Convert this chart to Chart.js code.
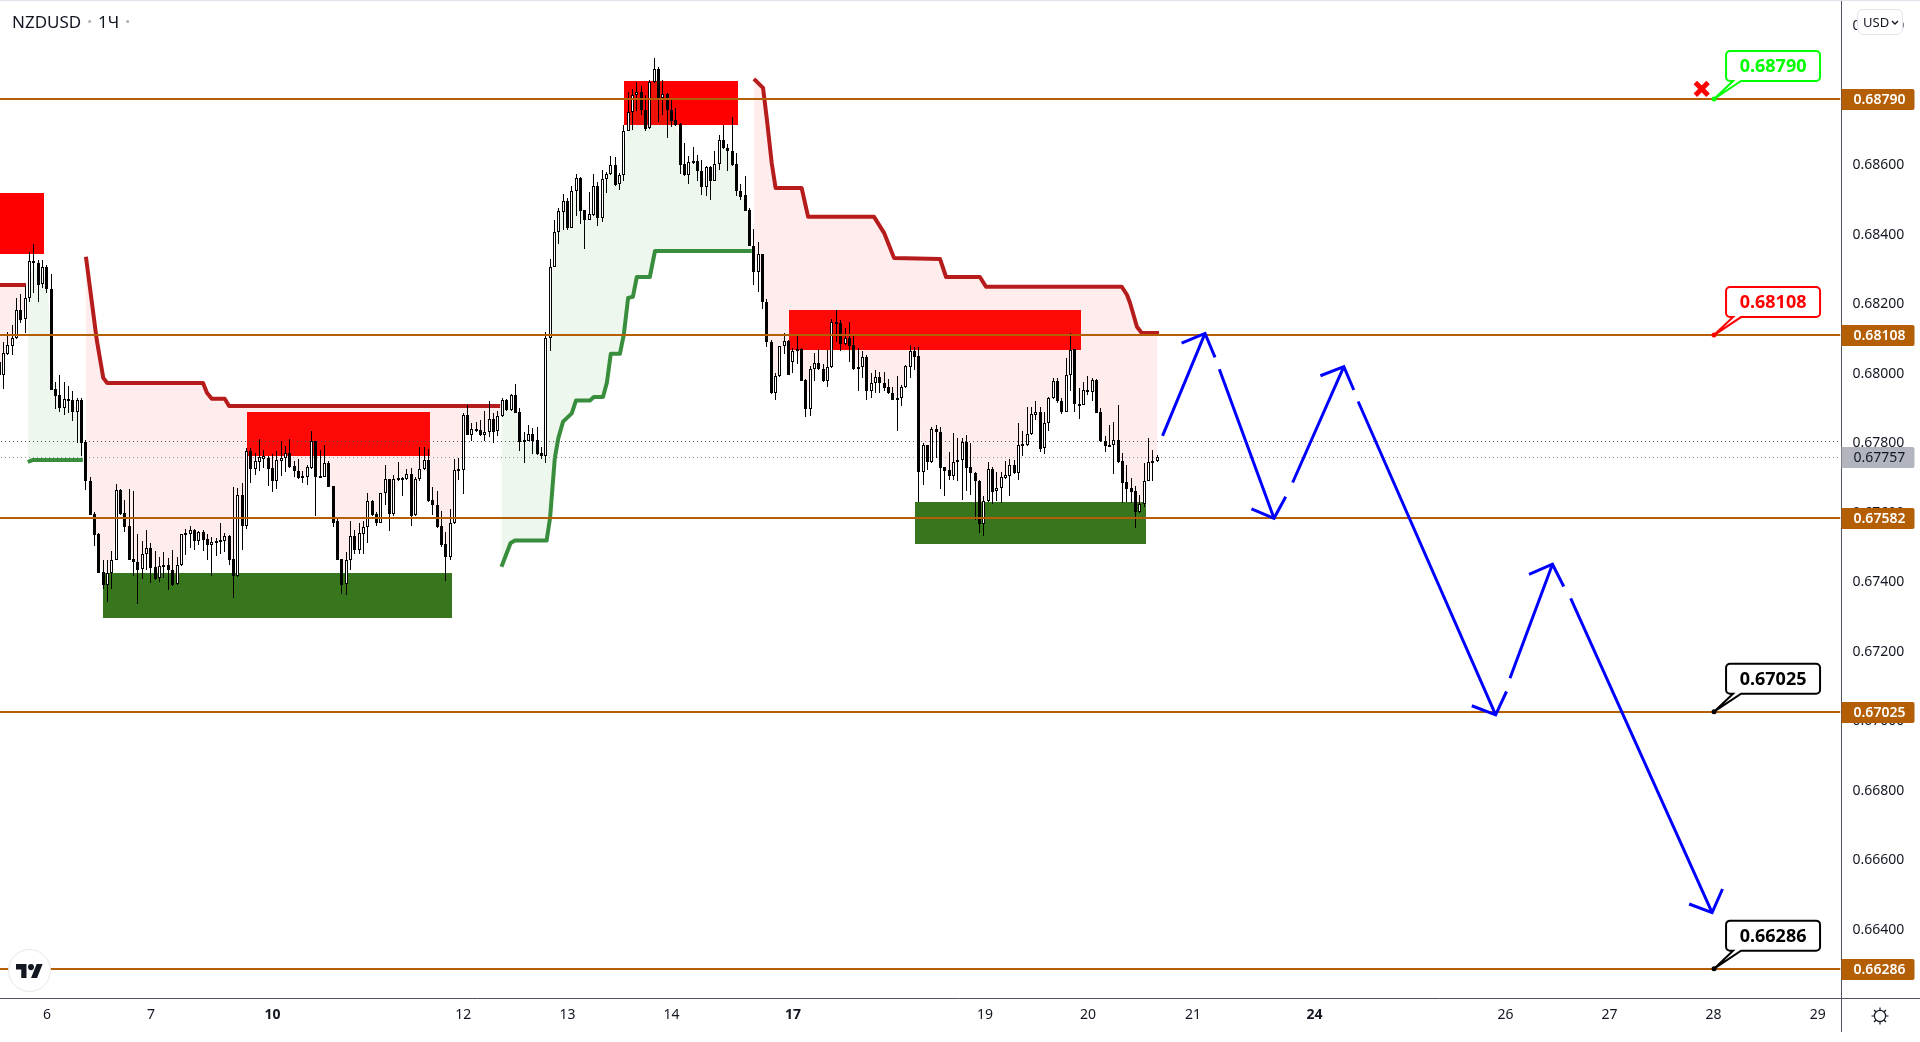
<!DOCTYPE html>
<html>
<head>
  <title>NZDUSD 1Ч</title>
  <script src="https://cdn.jsdelivr.net/npm/chart.js"></script>
  <style>
    html, body { margin: 0; background: #fff; overflow: hidden; }
    body { width: 1920px; height: 1042px; position: relative; font-family: "Noto Sans", Arial, sans-serif; color: #131722; }
    #chart { position: absolute; left: -3px; top: 0; }
    #topline { position: absolute; left: 0; top: 0; width: 100%; height: 1px; background: #e0e3eb; }
    #legend { position: absolute; left: 12px; top: 9px; font-size: 17px; line-height: 26px; white-space: nowrap; }
    #legend i { font-style: normal; color: #b2b5be; margin: 0 6px; font-weight: bold; }
    #currency { position: absolute; left: 1857px; top: 9px; width: 44px; height: 24px; border: 1px solid #e0e3eb; border-radius: 6px; background: #fff; font-size: 13px; line-height: 24px; }
    #currency span { position: absolute; left: 5px; }
    #currency svg { position: absolute; left: 33px; top: 10px; }
    #logo { position: absolute; left: 8px; top: 949px; width: 41px; height: 41px; border: 1px solid #e6e6e6; border-radius: 50%; background: #fff; }
    #logo svg { position: absolute; left: 7px; top: 14px; }
    #gear { position: absolute; left: 1871px; top: 1007px; }
  </style>
</head>
<body>
  <canvas id="chart" width="1923" height="1032"></canvas>
  <div id="topline"></div>
  <div id="legend">NZDUSD<i>·</i>1Ч<i>·</i></div>
  <div id="currency"><span>USD</span><svg width="8" height="5" viewBox="0 0 8 5"><path d="M1 1l3 3 3-3" fill="none" stroke="#131722" stroke-width="1.4"/></svg></div>
  <div id="logo"><svg width="27" height="14" viewBox="0 4 36 18" preserveAspectRatio="none"><path fill="#131722" d="M14 22H7V11H0V4h14v18zM28 22h-8l7.5-18h8L28 22z"/><circle fill="#131722" cx="20" cy="8" r="4"/></svg></div>
  <svg id="gear" width="18" height="18" viewBox="0 0 18 18" fill="none" stroke="#131722" stroke-width="1.2"><circle cx="9" cy="9" r="5.6"/><path d="M9 0.5v3M9 14.5v3M0.5 9h3M14.5 9h3M3 3l2 2M13 13l2 2M15 3l-2 2M5 13l-2 2"/></svg>

  <script>
    // prices are kept in points, 1 point = 0.00001
    var opens = [
      68032,67994,68054,68078,68099,68181,68154,68214,68321,68315,
      68254,68303,68240,67952,67936,67898,67924,67922,67888,67922,
      67801,67689,67594,67536,67426,67390,67423,67462,67663,67596,
      67559,67464,67455,67435,67478,67495,67440,67408,67447,67446,
      67433,67392,67446,67538,67537,67548,67517,67542,67521,67503,
      67515,67518,67517,67531,67463,67414,67648,67560,67775,67723,
      67744,67753,67755,67725,67687,67747,67754,67768,67732,67717,
      67703,67701,67727,67802,67703,67701,67740,67674,67572,67463,
      67392,67460,67531,67490,67537,67555,67630,67593,67569,67653,
      67694,67594,67697,67697,67693,67709,67590,67693,67722,67749,
      67634,67620,67559,67507,67471,67567,67722,67720,67879,67821,
      67837,67835,67822,67829,67867,67831,67874,67920,67893,67936,
      67886,67800,67804,67823,67805,67768,67760,68099,68305,68403,
      68463,68495,68417,68521,68559,68468,68439,68454,68537,68446,
      68556,68571,68597,68542,68567,68696,68749,68797,68808,68756,
      68703,68835,68873,68791,68801,68756,68727,68715,68600,68567,
      68605,68609,68581,68535,68591,68550,68599,68669,68645,68638,
      68600,68523,68511,68468,68365,68288,68341,68203,68088,67941,
      67989,68077,68091,68032,68061,68067,67979,67895,68010,68027,
      68011,67977,68017,68147,68142,68083,68099,68080,68013,68017,
      68044,67946,67970,67987,67971,67958,67942,67926,67926,67958,
      68017,68063,68048,67713,67792,67744,67837,67829,67728,67719,
      67704,67742,67748,67801,67728,67711,67689,67564,67632,67722,
      67659,67667,67698,67704,67734,67711,67795,67792,67823,67879,
      67887,67782,67855,67926,67976,67919,67888,67993,68067,67910,
      67907,67950,67943,67979,67887,67804,67792,67791,67806,67745,
      67686,67668,67660,67600,67622,67687,67745,67745
    ];
    var closes = [
      67994,68056,68080,68099,68181,68152,68214,68321,68315,68252,
      68303,68240,67950,67934,67898,67924,67920,67888,67922,67799,
      67687,67591,67533,67425,67390,67423,67462,67663,67594,67557,
      67462,67454,67433,67479,67495,67439,67407,67444,67442,67431,
      67390,67446,67535,67534,67548,67517,67542,67519,67503,67512,
      67510,67514,67531,67462,67414,67648,67560,67774,67723,67746,
      67757,67759,67724,67687,67749,67754,67768,67730,67716,67698,
      67698,67729,67804,67701,67700,67740,67671,67569,67462,67390,
      67462,67531,67490,67538,67555,67630,67591,67568,67653,67694,
      67593,67694,67692,67693,67709,67588,67694,67722,67749,67632,
      67618,67555,67505,67471,67567,67720,67718,67879,67821,67837,
      67833,67821,67829,67867,67829,67876,67920,67893,67936,67885,
      67800,67805,67823,67804,67766,67760,68099,68305,68403,68464,
      68495,68415,68521,68559,68466,68439,68456,68537,68446,68556,
      68571,68597,68540,68569,68696,68749,68797,68806,68754,68701,
      68837,68873,68791,68801,68754,68724,68712,68597,68567,68607,
      68609,68581,68535,68591,68550,68599,68669,68645,68636,68597,
      68521,68506,68466,68363,68288,68341,68202,68087,67941,67991,
      68077,68091,67992,68062,68067,67977,67895,68010,68027,68010,
      67977,68017,68147,68142,68083,68099,68077,68011,68017,68044,
      67946,67970,67987,67971,67955,67940,67922,67922,67958,68019,
      68063,68046,67713,67792,67744,67837,67828,67727,67718,67704,
      67742,67748,67800,67727,67711,67687,67564,67632,67722,67658,
      67667,67699,67705,67734,67711,67791,67791,67823,67880,67886,
      67781,67855,67926,67976,67917,67888,67993,68065,67909,67907,
      67950,67943,67979,67885,67802,67789,67789,67806,67744,67684,
      67666,67658,67600,67622,67689,67742,67742,67757
    ];
    var highs = [
      68085,68089,68118,68137,68214,68227,68248,68348,68369,68324,
      68324,68310,68283,67974,67994,67974,67962,67946,67926,67926,
      67807,67699,67598,67538,67462,67462,67487,67680,67666,67634,
      67666,67660,67536,67517,67548,67509,67488,67469,67485,67466,
      67490,67471,67536,67551,67559,67551,67545,67548,67536,67527,
      67524,67567,67538,67533,67670,67668,67682,67783,67783,67768,
      67809,67778,67759,67766,67775,67802,67789,67809,67746,67752,
      67716,67735,67833,67804,67778,67792,67747,67674,67586,67463,
      67483,67574,67548,67567,67572,67653,67634,67598,67655,67735,
      67694,67706,67743,67701,67722,67725,67701,67786,67786,67780,
      67670,67660,67602,67543,67608,67752,67754,67883,67907,67855,
      67859,67864,67890,67919,67883,67890,67926,67923,67938,67967,
      67898,67828,67850,67840,67845,67787,68118,68326,68439,68473,
      68514,68502,68537,68571,68564,68468,68519,68571,68548,68583,
      68578,68623,68620,68575,68713,68808,68815,68837,68825,68799,
      68842,68904,68878,68842,68804,68784,68760,68717,68660,68624,
      68648,68626,68612,68593,68593,68636,68684,68713,68658,68735,
      68631,68543,68566,68473,68413,68375,68341,68211,68094,68000,
      68077,68113,68094,68070,68106,68070,67981,68019,68056,68067,
      68025,68065,68154,68180,68152,68128,68147,68106,68070,68063,
      68051,67998,68008,68003,68003,67981,67960,67991,67965,68022,
      68080,68075,68075,67797,67792,67843,67850,67845,67730,67771,
      67826,67813,67811,67820,67799,67715,67692,67646,67744,67730,
      67713,67713,67746,67751,67749,67855,67831,67902,67901,67917,
      67902,67888,67931,67984,67984,67926,68043,68113,68067,67955,
      67972,67991,67984,67981,67898,67818,67850,67857,67907,67768,
      67735,67696,67674,67648,67739,67811,67778,67762
    ];
    var lows = [
      67979,67953,68051,68051,68096,68142,68113,68204,68230,68204,
      68242,68230,67950,67896,67888,67879,67885,67862,67797,67761,
      67663,67591,67502,67425,67377,67339,67377,67460,67591,67543,
      67462,67414,67335,67407,67433,67396,67404,67399,67409,67375,
      67385,67390,67444,67476,67495,67490,67505,67487,67462,67414,
      67473,67479,67485,67447,67353,67412,67490,67550,67684,67706,
      67716,67727,67675,67658,67665,67703,67713,67727,67701,67694,
      67684,67677,67723,67588,67698,67699,67670,67557,67460,67364,
      67361,67433,67479,67479,67479,67509,67589,67560,67567,67620,
      67546,67588,67687,67644,67690,67560,67588,67687,67720,67629,
      67591,67554,67500,67402,67462,67565,67692,67651,67820,67804,
      67828,67818,67802,67816,67797,67818,67871,67891,67890,67883,
      67776,67739,67802,67766,67763,67753,67741,68063,68303,68370,
      68410,68410,68415,68451,68428,68356,68439,68449,68422,68432,
      68516,68569,68537,68524,68550,68696,68698,68751,68741,68696,
      68701,68832,68722,68741,68676,68705,68708,68572,68566,68543,
      68600,68550,68511,68508,68497,68550,68583,68643,68581,68593,
      68508,68497,68466,68363,68252,68233,68182,68075,67939,67922,
      67987,68054,67992,68000,68025,67975,67872,67876,67977,68008,
      67974,67960,68013,68089,68063,68080,68032,68008,67946,67986,
      67920,67928,67941,67941,67946,67939,67922,67831,67905,67955,
      67986,68008,67629,67677,67720,67741,67754,67666,67644,67692,
      67692,67687,67634,67660,67648,67576,67540,67529,67629,67622,
      67632,67624,67693,67645,67709,67692,67759,67790,67821,67864,
      67773,67766,67833,67924,67914,67881,67886,67948,67888,67867,
      67907,67936,67917,67883,67800,67771,67787,67709,67741,67624,
      67629,67624,67554,67596,67613,67687,67689,67743
    ];

    // trend lines, null breaks the line
    var redBars = [-0.5,6.2,6.2, 20,22.5,24,24.9,47,47.9,49,52,53,115.5,115.5,
      174,176.1,177,178.1,179,185,186.5,201.7,204,206.3,216.9,218.3,226.1,227.5,258.8,260,260.7,262.3,263.4,267.4];
    var redPoints = [68252,68252,null, 68333,68094,67985,67970,67970,67942,67925,67925,67904,67904,null,
      68845,68819,68727,68603,68531,68531,68448,68448,68402,68330,68327,68275,68275,68247,68247,68224,68201,68132,68114,68114];
    var greenBars = [6.6,7.8,19.3,19.3, 115.8,117.9,118.9,126.2,127,128.1,128.9,130,132,133,136.2,137.1,139.2,140.1,141,143.1,144,145,146.1,147,150,151.2,173.5];
    var greenPoints = [67743,67749,67749,null, 67442,67510,67517,67517,67582,67754,67811,67859,67883,67920,67920,67930,67930,67971,68054,68054,68109,68215,68218,68275,68275,68350,68350];

    // supply and demand boxes
    var redZoneStart = [-0.5,57.13,144.03,182.07];
    var redZoneEnd = [10.33,99.31,170.32,249.38];
    var redZoneTop = [68517,67887,68839,68180];
    var redZoneBottom = [68342,67761,68712,68065];
    var greenZoneStart = [23.93,211.12];
    var greenZoneEnd = [104.39,264.37];
    var greenZoneTop = [67424,67628];
    var greenZoneBottom = [67295,67507];

    // horizontal levels and their labels
    var levelPoints = [68787,68108,67582,67025,66286];
    var levelTexts = ['0.68790','0.68108','0.67582','0.67025','0.66286'];
    var calloutLevels = [0,1,3,4];
    var calloutColors = ['#00ff00','#ff0000','#000000','#000000'];
    var lastPoints = 67757;
    var lastText = '0.67757';
    var prevClosePoints = 67802;

    // forecast arrows
    var arrowBars = [268.2,278,278, 272.6,278,280.3,280.3, 281.3,293.9,293.9, 288.7,293.9,296.6,296.6,
      298.2,310,310, 304.6,310,312.3,312.3, 313.3,345,345, 339.5,345,347.5,347.5,
      348.3,358.1,358.1, 352.7,358.1,360.7,360.7, 362.3,394.9,394.9, 389.6,394.9,397.3];
    var arrowPoints = [67818,68113,null, 68085,68113,68044,null, 68010,67581,null, 67608,67581,67643,null,
      67684,68017,null, 67991,68017,67950,null, 67917,67016,null, 67042,67016,67083,null,
      67121,67449,null, 67420,67449,67385,null, 67351,66447,null, 66472,66447,66515];
    var crossBar = 392.5;
    var crossPoints = 68816;
    var calloutBar = 395.35;

    // axes
    var dayBars = [11,35,63,107,131,155,183,227.25,251,275.25,303.25,347.25,371.25,395.25,419.25];
    var dayLabels = ['6','7','10','12','13','14','17','19','20','21','24','26','27','28','29'];
    var boldDays = ['10','17','24'];
    var priceTicks = [0.664,0.666,0.668,0.67,0.672,0.674,0.676,0.678,0.68,0.682,0.684,0.686,0.688,0.69];

    var FONT = '"Noto Sans", Arial, sans-serif';
    var ORANGE = '#b45f06';
    var FRAME = '#50535e';

    function pairs(bars, points) {
      return bars.map(function (b, i) {
        return { x: b, y: points[i] === null ? null : points[i] / 100000 };
      });
    }

    var candleBars = opens.map(function (_, i) { return i; });
    var wicks = candleBars.map(function (i) { return { x: i, y: [lows[i] / 100000, highs[i] / 100000] }; });
    var bodies = candleBars.map(function (i) { return { x: i, y: [opens[i] / 100000, closes[i] / 100000] }; });
    var middles = candleBars.map(function (i) { return { x: i, y: (opens[i] + closes[i]) / 200000 }; });
    var bodyColors = candleBars.map(function (i) { return closes[i] >= opens[i] ? '#ffffff' : '#000000'; });

    var datasets = [
      { type: 'line', label: 'mid', data: middles, borderWidth: 0, pointRadius: 0, order: 7 },
      { type: 'line', label: 'trend down', data: pairs(redBars, redPoints), borderColor: '#b71c1c', borderWidth: 4, pointRadius: 0,
        fill: { target: 0 }, backgroundColor: 'rgba(255,82,82,0.1)', borderJoinStyle: 'round', order: 6 },
      { type: 'line', label: 'trend up', data: pairs(greenBars, greenPoints), borderColor: '#388e3c', borderWidth: 4, pointRadius: 0,
        fill: { target: 0 }, backgroundColor: 'rgba(76,175,80,0.1)', borderJoinStyle: 'round', order: 6 },
      { type: 'line', label: 'previous close', data: pairs([-0.5, 424.5], [prevClosePoints, prevClosePoints]), borderColor: FRAME, borderWidth: 1,
        borderDash: [1, 3], pointRadius: 0, order: 5, snap: 0.5 },
      { type: 'line', label: 'last', data: pairs([-0.5, 424.5], [lastPoints, lastPoints]), borderColor: '#9598a1', borderWidth: 1,
        borderDash: [1, 3], pointRadius: 0, order: 5, snap: 0.5 },
      { label: 'wicks', data: wicks, backgroundColor: '#000000', barThickness: 1, grouped: false, inflateAmount: 0, order: 4 },
      { label: 'bodies', data: bodies, backgroundColor: bodyColors, borderColor: '#000000', borderWidth: 1, borderSkipped: false,
        barThickness: 3, grouped: false, inflateAmount: 0, order: 3 },
      { type: 'line', label: 'forecast', data: pairs(arrowBars, arrowPoints), borderColor: '#0000ff', borderWidth: 3, pointRadius: 0, order: 1 },
      { type: 'line', label: 'stop', data: pairs([crossBar], [crossPoints]), showLine: false, pointStyle: 'crossRot', pointRadius: 9,
        pointBorderWidth: 5, borderColor: '#ff0000', pointBorderColor: '#ff0000', order: 1 }
    ];
    levelPoints.forEach(function (p, i) {
      datasets.push({ type: 'line', label: levelTexts[i], data: pairs([-0.5, 424.5], [p, p]), borderColor: ORANGE, borderWidth: 2, pointRadius: 0, order: 2, snap: 0 });
    });

    // candles and level lines sit on whole pixels, the way the terminal draws them
    var snapPlugin = {
      id: 'snap',
      afterDatasetsUpdate: function (chart) {
        chart.data.datasets.forEach(function (ds, n) {
          var els = chart.getDatasetMeta(n).data;
          if (ds.snap !== undefined) {
            els.forEach(function (el) { el.y = Math.round(el.y) + ds.snap; });
          }
          if (ds.label === 'wicks' || ds.label === 'bodies') {
            els.forEach(function (el) {
              el.x = Math.floor(el.x) + 0.5;
              var top = Math.round(Math.min(el.y, el.base));
              var bottom = Math.round(Math.max(el.y, el.base));
              if (bottom - top < 2 && ds.label === 'bodies') { bottom = top + 2; }
              el.y = top;
              el.base = bottom;
            });
          }
        });
      }
    };

    function drawZones(chart, starts, ends, tops, bottoms, color) {
      var x = chart.scales.x, y = chart.scales.y, ctx = chart.ctx;
      ctx.fillStyle = color;
      starts.forEach(function (s, i) {
        var left = Math.round(x.getPixelForValue(s)), right = Math.round(x.getPixelForValue(ends[i]));
        var top = Math.round(y.getPixelForValue(tops[i] / 100000)), bottom = Math.round(y.getPixelForValue(bottoms[i] / 100000));
        ctx.fillRect(left, top, right - left, bottom - top);
      });
    }

    var zonesPlugin = {
      id: 'zones',
      beforeDatasetsDraw: function (chart) {
        drawZones(chart, redZoneStart, redZoneEnd, redZoneTop, redZoneBottom, '#ff0000');
        drawZones(chart, greenZoneStart, greenZoneEnd, greenZoneTop, greenZoneBottom, '#38761d');
      }
    };

    function priceTag(ctx, left, py, text, fill, color, weight) {
      py = Math.round(py);
      ctx.fillStyle = fill;
      ctx.beginPath();
      ctx.roundRect(left, py - 10, 73, 21, [0, 2, 2, 0]);
      ctx.fill();
      ctx.fillStyle = color;
      ctx.font = weight + ' 14px ' + FONT;
      ctx.textAlign = 'left';
      ctx.textBaseline = 'middle';
      ctx.fillText(text, left + 12, py + 1.5);
    }

    function callout(ctx, px, py, text, color) {
      var left = px + 12, right = px + 106, top = py - 48, bottom = py - 18, r = 4;
      ctx.beginPath();
      ctx.moveTo(left + r, top);
      ctx.lineTo(right - r, top);
      ctx.arcTo(right, top, right, top + r, r);
      ctx.lineTo(right, bottom - r);
      ctx.arcTo(right, bottom, right - r, bottom, r);
      ctx.lineTo(px + 27, bottom);
      ctx.lineTo(px, py);
      ctx.lineTo(px + 19, bottom);
      ctx.lineTo(left + r, bottom);
      ctx.arcTo(left, bottom, left, bottom - r, r);
      ctx.lineTo(left, top + r);
      ctx.arcTo(left, top, left + r, top, r);
      ctx.closePath();
      ctx.fillStyle = '#ffffff';
      ctx.fill();
      ctx.strokeStyle = color;
      ctx.lineWidth = 2;
      ctx.stroke();
      ctx.fillStyle = color;
      ctx.beginPath();
      ctx.arc(px, py, 2.5, 0, Math.PI * 2);
      ctx.fill();
      ctx.font = 'bold 18px ' + FONT;
      ctx.textAlign = 'center';
      ctx.textBaseline = 'middle';
      ctx.fillText(text, (left + right) / 2, (top + bottom) / 2 + 1);
    }

    var overlayPlugin = {
      id: 'overlay',
      afterDraw: function (chart) {
        var ctx = chart.ctx, area = chart.chartArea, x = chart.scales.x, y = chart.scales.y;
        var right = Math.round(area.right) + 0.5, bottom = Math.round(area.bottom) + 0.5;
        ctx.save();
        ctx.strokeStyle = FRAME;
        ctx.lineWidth = 1;
        ctx.beginPath();
        ctx.moveTo(right, 0);
        ctx.lineTo(right, chart.height);
        ctx.moveTo(0, bottom);
        ctx.lineTo(chart.width, bottom);
        ctx.stroke();
        priceTag(ctx, right, y.getPixelForValue(lastPoints / 100000), lastText, '#b2b5be', '#131722', 'normal');
        levelPoints.forEach(function (p, i) {
          priceTag(ctx, right, y.getPixelForValue(p / 100000), levelTexts[i], ORANGE, '#ffffff', '600');
        });
        calloutLevels.forEach(function (level, i) {
          callout(ctx, x.getPixelForValue(calloutBar), y.getPixelForValue(levelPoints[level] / 100000), levelTexts[level], calloutColors[i]);
        });
        ctx.restore();
      }
    };

    function noPadding(scale) {
      scale.paddingTop = 0;
      scale.paddingBottom = 0;
      scale.paddingLeft = 0;
      scale.paddingRight = 0;
    }

    var chart = new Chart(document.getElementById('chart').getContext('2d'), {
      type: 'bar',
      data: { datasets: datasets },
      plugins: [snapPlugin, zonesPlugin, overlayPlugin],
      options: {
        responsive: false,
        animation: false,
        events: [],
        layout: { padding: 0, autoPadding: false },
        plugins: { legend: { display: false }, tooltip: { enabled: false } },
        scales: {
          x: {
            type: 'linear',
            min: -0.5,
            max: 424.5,
            offset: false,
            grid: { display: false, drawTicks: false },
            border: { display: false },
            afterBuildTicks: function (scale) {
              scale.ticks = dayBars.map(function (b) { return { value: b }; });
            },
            afterFit: function (scale) { scale.height = 34; noPadding(scale); },
            ticks: {
              autoSkip: false,
              maxRotation: 0,
              minRotation: 0,
              padding: 9,
              color: '#131722',
              callback: function (value) { return dayLabels[dayBars.indexOf(value)]; },
              font: function (ctx) {
                var bold = boldDays.indexOf(dayLabels[ctx.index]) >= 0;
                return { family: FONT, size: 14, weight: bold ? 'bold' : 'normal' };
              }
            }
          },
          y: {
            type: 'linear',
            position: 'right',
            min: 0.662016,
            max: 0.690716,
            grid: { display: false, drawTicks: false },
            border: { display: false },
            afterBuildTicks: function (scale) {
              scale.ticks = priceTicks.map(function (p) { return { value: p }; });
            },
            afterFit: function (scale) { scale.width = 79.5; noPadding(scale); },
            ticks: {
              autoSkip: false,
              padding: 12,
              labelOffset: 1,
              color: '#131722',
              font: { family: FONT, size: 14 },
              callback: function (value) { return value.toFixed(5); }
            }
          }
        }
      }
    });
  </script>
</body>
</html>
